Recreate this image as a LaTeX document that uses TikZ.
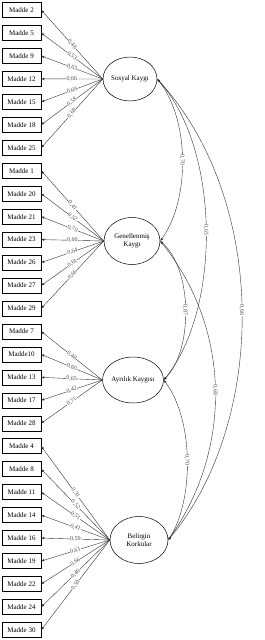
\documentclass[tikz,border=0pt]{standalone}
\usepackage{fontspec}
\setmainfont{Liberation Serif}
\usetikzlibrary{arrows.meta,shapes.geometric}
\begin{document}
\begin{tikzpicture}[x=1pt,y=-1pt,
  item/.style={draw, line width=0.5pt, rectangle, minimum width=39pt, minimum height=15pt, inner sep=0pt, font=\fontsize{7}{8}\selectfont},
  latent/.style={draw, line width=0.5pt, ellipse, inner sep=0pt, align=center, font=\fontsize{7}{8}\selectfont},
  load/.style={line width=0.4pt, draw=black!80, -{Latex[length=3pt,width=2.4pt]}},
  cov/.style={line width=0.4pt, draw=black!80, {Latex[length=3pt,width=2.4pt]}-{Latex[length=3pt,width=2.4pt]}},
  llab/.style={pos=0.5, sloped, fill=white, inner sep=0.4pt, text=black!70, font=\fontsize{6}{6}\selectfont},
  clab/.style={pos=0.5, rotate=-90, fill=white, inner sep=0.4pt, text=black!70, font=\fontsize{6}{6}\selectfont}]
\useasboundingbox (0,0) rectangle (265,640);
\def\dy{22.96}
% items
\foreach \nm/\txt/\i in {m2/Madde 2/0, m5/Madde 5/1, m9/Madde 9/2, m12/Madde 12/3, m15/Madde 15/4, m18/Madde 18/5, m25/Madde 25/6,
  m1/Madde 1/7, m20/Madde 20/8, m21/Madde 21/9, m23/Madde 23/10, m26/Madde 26/11, m27/Madde 27/12, m29/Madde 29/13,
  m7/Madde 7/14, m10/Madde10/15, m13/Madde 13/16, m17/Madde 17/17, m28/Madde 28/18,
  m4/Madde 4/19, m8/Madde 8/20, m11/Madde 11/21, m14/Madde 14/22, m16/Madde 16/23, m19/Madde 19/24, m22/Madde 22/25, m24/Madde 24/26, m30/Madde 30/27}
  {\node[item] (\nm) at (21.5,{10+\i*\dy}) {\txt};}
% latents
\node[latent, minimum width=54pt, minimum height=44pt] (sk) at (130,79) {Sosyal Kaygı};
\node[latent, minimum width=56pt, minimum height=47pt] (gk) at (132,241) {Genellenmiş\\Kaygı};
\node[latent, minimum width=58pt, minimum height=46pt] (ak) at (133,380) {Ayrılık Kaygısı};
\node[latent, minimum width=58pt, minimum height=47pt] (bk) at (139,540) {Belirgin\\Korkular};
% loadings
\foreach \b/\v in {m2/{0,48}, m5/{0,53}, m9/{0,63}, m12/{0,66}, m15/{0,69}, m18/{0,58}, m25/{0,68}}
  {\draw[load] (sk.west) -- (\b.east) node[llab] {\v};}
\foreach \b/\v in {m1/{0,41}, m20/{0,52}, m21/{0,70}, m23/{0,60}, m26/{0,64}, m27/{0,61}, m29/{0,66}}
  {\draw[load] (gk.west) -- (\b.east) node[llab] {\v};}
\foreach \b/\v in {m7/{0,48}, m10/{0,60}, m13/{0,65}, m17/{0,42}, m28/{0,71}}
  {\draw[load] (ak.west) -- (\b.east) node[llab] {\v};}
\foreach \b/\v in {m4/{0,31}, m8/{0,52}, m11/{0,51}, m14/{0,41}, m16/{0,59}, m19/{0,61}, m22/{0,66}, m24/{0,46}, m30/{0,50}}
  {\draw[load] (bk.west) -- (\b.east) node[llab] {\v};}
% covariances
\draw[cov] (sk.east) .. controls (190,120) and (190,200) .. (gk.east) node[clab] {0,70};
\draw[cov] (sk.east) .. controls (221,150) and (221,310) .. (ak.east) node[clab] {0,65};
\draw[cov] (sk.east) .. controls (268,200) and (268,420) .. (bk.east) node[clab] {0,66};
\draw[cov] (gk.east) .. controls (193,270) and (193,350) .. (ak.east) node[clab] {0,87};
\draw[cov] (gk.east) .. controls (232,330) and (232,450) .. (bk.east) node[clab] {0,68};
\draw[cov] (ak.east) .. controls (194,420) and (194,500) .. (bk.east) node[clab] {0,70};
\end{tikzpicture}
\end{document}
